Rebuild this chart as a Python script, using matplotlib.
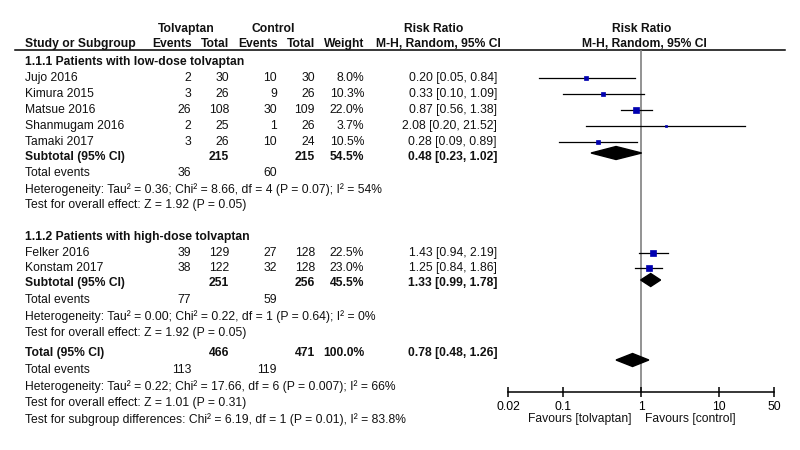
import matplotlib
matplotlib.use('Agg')
import matplotlib.pyplot as plt
import numpy as np

plt.rcParams['font.family'] = ['Liberation Sans', 'DejaVu Sans']
FS = 8.7

# ---- data ----
studies_low = ['Jujo 2016', 'Kimura 2015', 'Matsue 2016', 'Shanmugam 2016', 'Tamaki 2017']
ev_t_low = [2, 3, 26, 2, 3]
n_t_low = [30, 26, 108, 25, 26]
ev_c_low = [10, 9, 30, 1, 10]
n_c_low = [30, 26, 109, 26, 24]
w_low = [8.0, 10.3, 22.0, 3.7, 10.5]
rr_low = [0.20, 0.33, 0.87, 2.08, 0.28]
lo_low = [0.05, 0.10, 0.56, 0.20, 0.09]
hi_low = [0.84, 1.09, 1.38, 21.52, 0.89]

studies_high = ['Felker 2016', 'Konstam 2017']
ev_t_high = [39, 38]
n_t_high = [129, 122]
ev_c_high = [27, 32]
n_c_high = [128, 128]
w_high = [22.5, 23.0]
rr_high = [1.43, 1.25]
lo_high = [0.94, 0.84]
hi_high = [2.19, 1.86]

# subtotal / total: [n_t, n_c, weight, rr, lo, hi, events_t, events_c]
sub_low = [215, 215, 54.5, 0.48, 0.23, 1.02, 36, 60]
sub_high = [251, 256, 45.5, 1.33, 0.99, 1.78, 77, 59]
total = [466, 471, 100.0, 0.78, 0.48, 1.26, 113, 119]

het_low = 'Heterogeneity: Tau² = 0.36; Chi² = 8.66, df = 4 (P = 0.07); I² = 54%'
eff_low = 'Test for overall effect: Z = 1.92 (P = 0.05)'
het_high = 'Heterogeneity: Tau² = 0.00; Chi² = 0.22, df = 1 (P = 0.64); I² = 0%'
eff_high = 'Test for overall effect: Z = 1.92 (P = 0.05)'
het_tot = 'Heterogeneity: Tau² = 0.22; Chi² = 17.66, df = 6 (P = 0.007); I² = 66%'
eff_tot = 'Test for overall effect: Z = 1.01 (P = 0.31)'
sub_diff = 'Test for subgroup differences: Chi² = 6.19, df = 1 (P = 0.01), I² = 83.8%'

ticks = [0.02, 0.1, 1, 10, 50]
tick_labels = ['0.02', '0.1', '1', '10', '50']

# ---- layout (pixels) ----
X_LABEL, X_EVT, X_NT, X_EVC, X_NC, X_W, X_RR = 25, 191, 229, 277, 315, 364, 497
y_low = [78, 94, 110, 126, 142]
y_high = [253, 268]

fig = plt.figure(figsize=(8, 4.5), dpi=100)
ax = fig.add_axes([0, 0, 1, 1])
ax.set_xlim(0, 800)
ax.set_ylim(450, 0)
ax.axis('off')


def txt(x, y, s, ha='left', bold=False):
    ax.text(x, y, s, ha=ha, va='center', fontsize=FS,
            fontweight='bold' if bold else 'normal', color='#111111')


def ci(rr, lo, hi):
    return f'{rr:.2f} [{lo:.2f}, {hi:.2f}]'


# headers
txt(186, 29, 'Tolvaptan', 'center', True)
txt(273, 29, 'Control', 'center', True)
txt(434, 29, 'Risk Ratio', 'center', True)
txt(642, 29, 'Risk Ratio', 'center', True)
txt(X_LABEL, 44, 'Study or Subgroup', bold=True)
txt(X_EVT + 1, 44, 'Events', 'right', True)
txt(X_NT, 44, 'Total', 'right', True)
txt(X_EVC + 1, 44, 'Events', 'right', True)
txt(X_NC, 44, 'Total', 'right', True)
txt(X_W, 44, 'Weight', 'right', True)
txt(X_RR + 4, 44, 'M-H, Random, 95% CI', 'right', True)
txt(644, 44, 'M-H, Random, 95% CI', 'center', True)
ax.plot([15, 785], [50, 50], color='black', lw=1.1)


def study_rows(names, et, nt, ec, nc, w, rr, lo, hi, ys):
    for i, y in enumerate(ys):
        txt(X_LABEL, y, names[i])
        txt(X_EVT, y, str(et[i]), 'right')
        txt(X_NT, y, str(nt[i]), 'right')
        txt(X_EVC, y, str(ec[i]), 'right')
        txt(X_NC, y, str(nc[i]), 'right')
        txt(X_W, y, f'{w[i]:.1f}%', 'right')
        txt(X_RR, y, ci(rr[i], lo[i], hi[i]), 'right')


def summary_rows(label, s, y, y_ev, het, eff, y_het, y_eff):
    txt(X_LABEL, y, label, bold=True)
    txt(X_NT, y, str(s[0]), 'right', True)
    txt(X_NC, y, str(s[1]), 'right', True)
    txt(X_W, y, f'{s[2]:.1f}%', 'right', True)
    txt(X_RR, y, ci(s[3], s[4], s[5]), 'right', True)
    txt(X_LABEL, y_ev, 'Total events')
    txt(X_EVT, y_ev, str(s[6]), 'right')
    txt(X_EVC, y_ev, str(s[7]), 'right')
    txt(X_LABEL, y_het, het)
    txt(X_LABEL, y_eff, eff)


txt(X_LABEL, 62, '1.1.1 Patients with low-dose tolvaptan', bold=True)
study_rows(studies_low, ev_t_low, n_t_low, ev_c_low, n_c_low, w_low,
           rr_low, lo_low, hi_low, y_low)
summary_rows('Subtotal (95% CI)', sub_low, 157, 173, het_low, eff_low, 190, 205)

txt(X_LABEL, 237, '1.1.2 Patients with high-dose tolvaptan', bold=True)
study_rows(studies_high, ev_t_high, n_t_high, ev_c_high, n_c_high, w_high,
           rr_high, lo_high, hi_high, y_high)
summary_rows('Subtotal (95% CI)', sub_high, 283, 300, het_high, eff_high, 317, 333)

summary_rows('Total (95% CI)', total, 353, 370, het_tot, eff_tot, 387, 403)
txt(X_LABEL, 420, sub_diff)

txt(632, 419, 'Favours [tolvaptan]', 'right')
txt(645, 419, 'Favours [control]', 'left')

# ---- forest panel ----
fp = fig.add_axes([508 / 800, 1 - 392 / 450, (774 - 508) / 800, (392 - 50) / 450])
fp.set_xscale('log')
fp.set_xlim(0.02, 50)
fp.set_ylim(392, 50)
fp.patch.set_alpha(0)
for side in ['top', 'right', 'left']:
    fp.spines[side].set_visible(False)
fp.spines['bottom'].set_linewidth(1.1)
fp.set_yticks([])
fp.set_xticks(ticks)
fp.set_xticklabels(tick_labels, fontsize=FS)
fp.minorticks_off()
fp.tick_params(axis='x', direction='inout', length=7, width=1.1, pad=3)
fp.axvline(1, color='#808080', lw=1.2, zorder=1)


def squares(rr, lo, hi, w, ys):
    for i, y in enumerate(ys):
        fp.plot([lo[i], hi[i]], [y, y], color='black', lw=0.9, zorder=2)
        fp.plot(rr[i], y, marker='s', ms=max(np.sqrt(w[i]) * 0.8, 1.8),
                color='#0000b0', mec='#0000b0', mew=0.5, zorder=3)


def diamond(s, y, h=6.5):
    fp.fill([s[4], s[3], s[5], s[3]], [y, y - h, y, y + h], color='black', zorder=3)


squares(rr_low, lo_low, hi_low, w_low, y_low)
squares(rr_high, lo_high, hi_high, w_high, y_high)
diamond(sub_low, 153)
diamond(sub_high, 280)
diamond(total, 360)

fig.savefig('out.png', dpi=100)
